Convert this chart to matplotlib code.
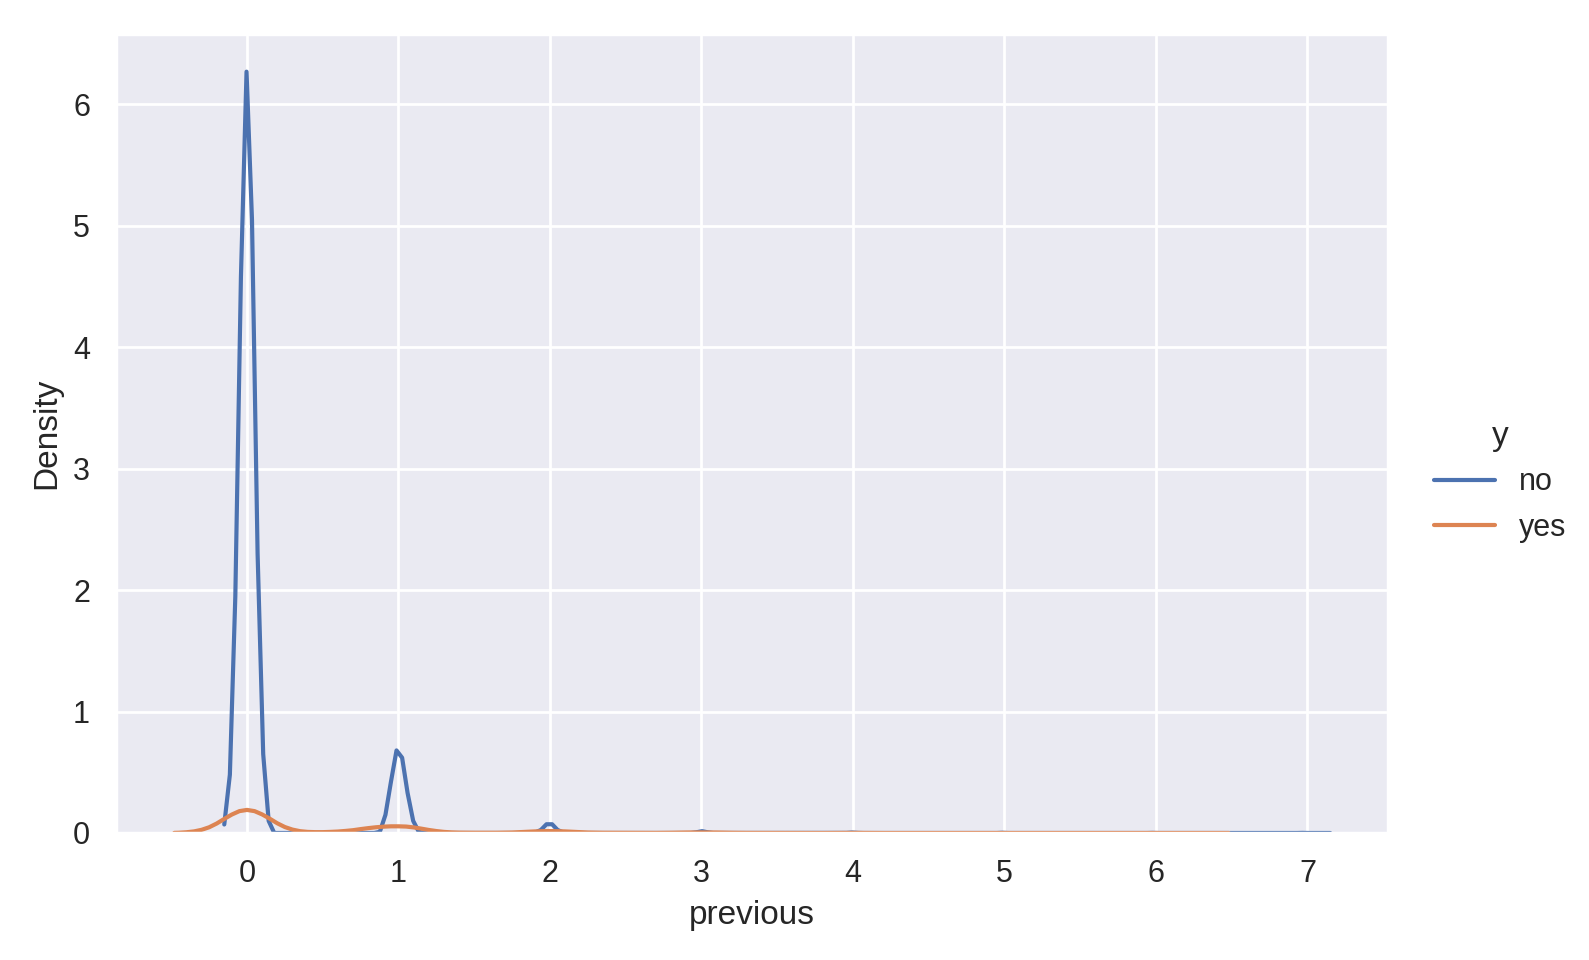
import numpy as np
import matplotlib
matplotlib.use("Agg")
import matplotlib.pyplot as plt
import seaborn as sns

# density curve for y == "no" (vertices)
no_x = [-0.150, -0.113, -0.077, -0.040, -0.003, 0.033, 0.070, 0.107, 0.143, 0.180,
        0.840, 0.877, 0.914, 0.950, 0.987, 1.024, 1.060, 1.097, 1.134, 1.170,
        1.867, 1.904, 1.940, 1.977, 2.014, 2.050, 2.087, 2.124,
        2.930, 2.967, 3.004, 3.040, 3.077,
        3.958, 3.995, 4.032, 4.069,
        4.950, 4.986, 5.023, 5.940, 5.977, 6.014, 6.930, 6.967, 7.004, 7.150]
no_y = [0.07, 0.48, 1.95, 4.58, 6.27, 5.05, 2.30, 0.65, 0.10, 0.0,
        0.0, 0.01, 0.15, 0.42, 0.68, 0.62, 0.33, 0.10, 0.01, 0.0,
        0.0, 0.005, 0.025, 0.072, 0.072, 0.025, 0.005, 0.0,
        0.0, 0.006, 0.015, 0.006, 0.0,
        0.001, 0.004, 0.001, 0.0,
        0.0, 0.002, 0.0, 0.0, 0.001, 0.0, 0.0, 0.001, 0.0, 0.0]

# density curve for y == "yes"
yes_x = [-0.48, -0.45, -0.40, -0.35, -0.30, -0.25, -0.20, -0.15, -0.10, -0.05,
         0.00, 0.05, 0.10, 0.15, 0.20, 0.25, 0.30, 0.35, 0.40, 0.45,
         0.50, 0.55, 0.60, 0.65, 0.70, 0.75, 0.80, 0.85, 0.90, 0.95,
         1.00, 1.05, 1.10, 1.15, 1.20, 1.25, 1.30, 1.35, 1.40, 1.50,
         1.65, 1.75, 1.80, 1.85, 1.90, 1.95, 2.00, 2.05, 2.10, 2.15,
         2.20, 2.25, 2.35, 2.70, 2.80, 2.90, 3.00, 3.10, 3.20, 3.30,
         3.80, 4.00, 4.20, 5.00, 6.00, 6.48]
yes_y = [0.001, 0.002, 0.006, 0.013, 0.026, 0.047, 0.078, 0.116, 0.152, 0.180,
         0.190, 0.180, 0.153, 0.118, 0.080, 0.049, 0.028, 0.015, 0.009, 0.007,
         0.007, 0.009, 0.012, 0.017, 0.023, 0.032, 0.040, 0.047, 0.052, 0.055,
         0.055, 0.053, 0.046, 0.036, 0.025, 0.016, 0.009, 0.005, 0.003, 0.002,
         0.002, 0.004, 0.007, 0.010, 0.013, 0.015, 0.016, 0.015, 0.013, 0.010,
         0.007, 0.004, 0.002, 0.001, 0.002, 0.004, 0.005, 0.004, 0.002, 0.001,
         0.0, 0.001, 0.0, 0.0, 0.0, 0.0]

hue_labels = ["no", "yes"]

sns.set_theme()
plt.rcParams['font.family'] = ['Liberation Sans', 'DejaVu Sans']

fig = plt.figure(figsize=(1589 / 200, 960 / 200), dpi=200)
ax = fig.add_axes([0.0733, 0.1323, 0.8735 - 0.0733, 0.965 - 0.1323])

colors = sns.color_palette()
ax.plot(no_x, no_y, color=colors[0], label=hue_labels[0])
ax.plot(yes_x, yes_y, color=colors[1], label=hue_labels[1])

ax.set_ylim(0, max(no_y) * 1.05)
ax.set_xlabel("previous")
ax.set_ylabel("Density")
ax.set_xticks(range(0, 8))

handles, labels = ax.get_legend_handles_labels()
fig.legend(handles, labels, title="y", loc="center left",
           bbox_to_anchor=(0.885, 0.498), frameon=False)

fig.savefig("out.png", dpi=200)
